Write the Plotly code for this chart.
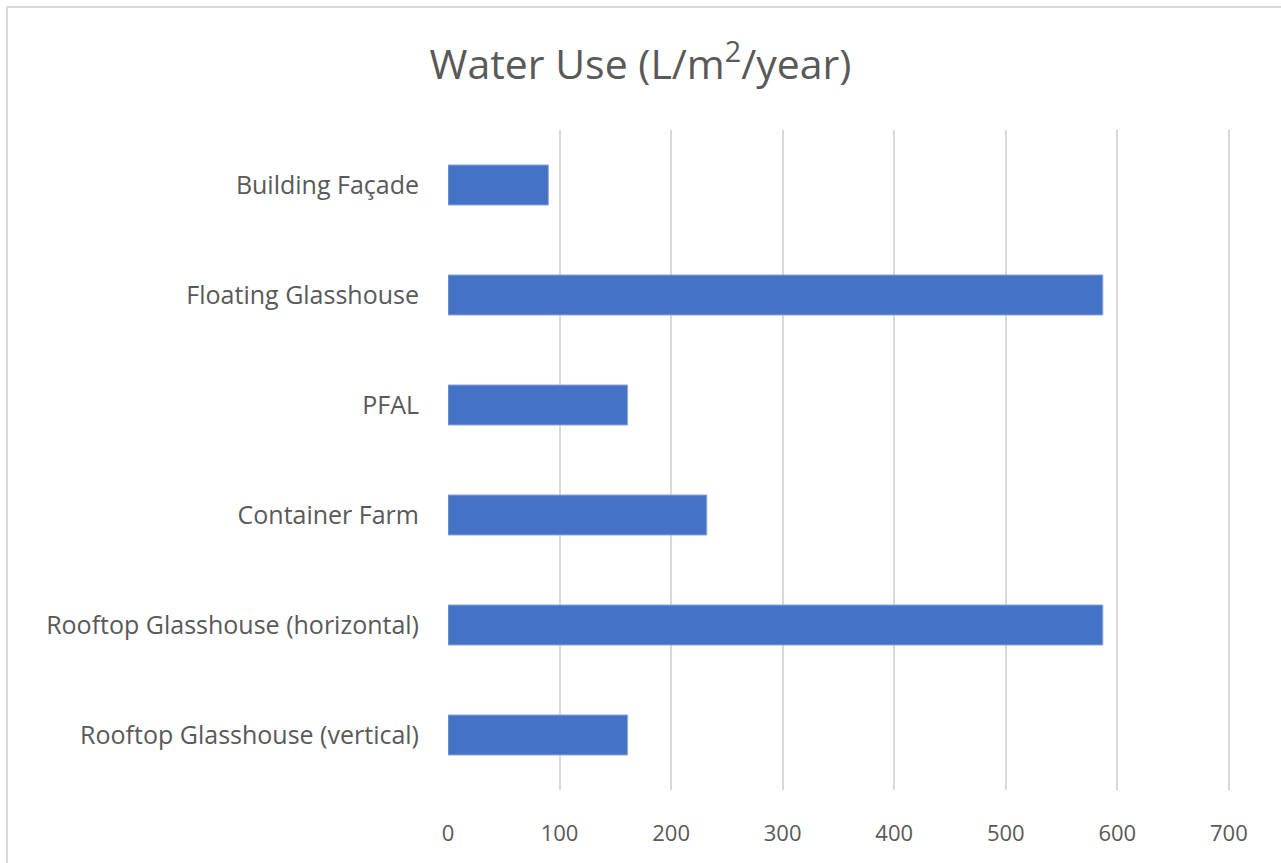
import plotly.graph_objects as go

# categories listed bottom to top, as plotly draws them
categories = ["Rooftop Glasshouse (vertical)", "Rooftop Glasshouse (horizontal)",
              "Container Farm", "PFAL", "Floating Glasshouse", "Building Façade"]
water_use = [161, 587, 232, 161, 587, 90]
x_ticks = [0, 100, 200, 300, 400, 500, 600, 700]

W, H = 1281, 863
ML, MR, MT, MB = 448, 51, 130, 73

fig = go.Figure()
fig.add_trace(go.Bar(y=categories, x=water_use, orientation="h",
                     marker=dict(color="#4472C4", line=dict(color="#8FAADC", width=1)),
                     width=0.364))

fig.update_layout(
    width=W, height=H,
    margin=dict(l=ML, r=MR, t=MT, b=MB),
    paper_bgcolor="white", plot_bgcolor="white",
    font=dict(family="Open Sans", color="#595959"),
    title=dict(text="Water Use (L/m<sup>2</sup>/year)", x=0.5, xanchor="center",
               y=1 - 65 / H, yanchor="middle", font=dict(size=41, color="#595959")),
    showlegend=False,
)
fig.update_xaxes(range=[0, 701], tickvals=x_ticks, showgrid=True, gridcolor="#d9d9d9",
                 gridwidth=2, zeroline=False, showline=False,
                 tickfont=dict(size=22, color="#595959"), ticks="outside",
                 ticklen=24, tickcolor="rgba(0,0,0,0)")
fig.update_yaxes(showgrid=False, zeroline=False, showline=False,
                 tickfont=dict(size=25, color="#595959"), ticks="outside",
                 ticklen=23, tickcolor="rgba(0,0,0,0)")

# thin grey chart border (only top and left edges are visible)
pw = W - ML - MR
ph = H - MT - MB
x_left = (7 - ML) / pw
y_top = (H - 7 - MB) / ph
x_right = (W - ML) / pw
y_bottom = (0 - MB) / ph
fig.add_shape(type="line", xref="paper", yref="paper", x0=x_left, x1=x_right,
              y0=y_top, y1=y_top, line=dict(color="#d9d9d9", width=2))
fig.add_shape(type="line", xref="paper", yref="paper", x0=x_left, x1=x_left,
              y0=y_top, y1=y_bottom, line=dict(color="#d9d9d9", width=2))

# drop the default page margin so the figure sits at the window's corner
fig.write_html("out.html", config={"displayModeBar": False},
               post_script="document.body.style.margin='0';")
